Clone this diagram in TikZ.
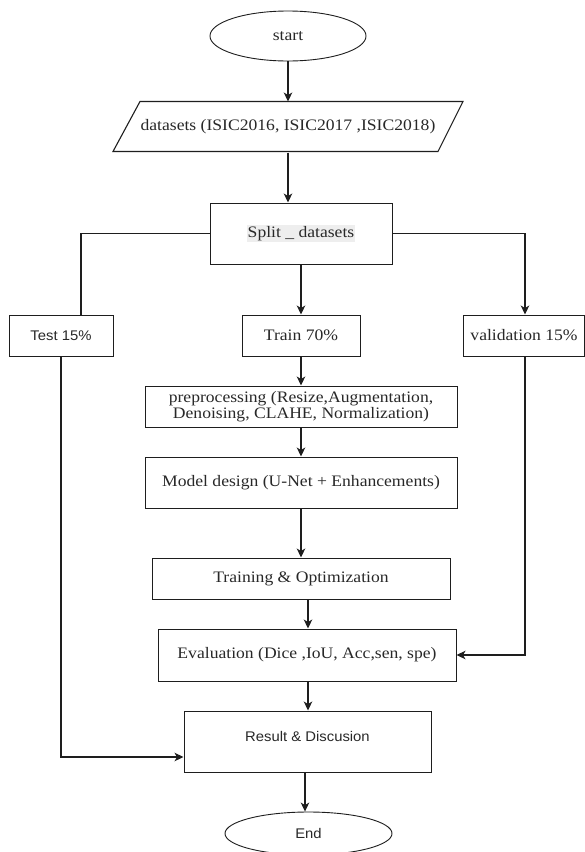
\documentclass[tikz,border=0pt]{standalone}
\usepackage{fontspec}
\usepackage{graphicx}
\setmainfont{Liberation Serif}
\newfontfamily\arialf{Liberation Sans}
\usetikzlibrary{shapes.geometric,arrows.meta}
\newcommand\sx[1]{\scalebox{1.1}[1]{#1}}
\newcommand\sxs[1]{\scalebox{1.06}[1]{#1}}
\definecolor{txt}{RGB}{40,40,40}
\definecolor{ln}{RGB}{30,30,30}
\begin{document}
\begin{tikzpicture}[x=1pt,y=-1pt,
  box/.style={draw=ln, line width=1pt, rectangle, inner sep=0pt, text=txt,
    font=\fontsize{16}{16}\selectfont, align=center},
  sbox/.style={box, font=\arialf\fontsize{14}{14}\selectfont},
  oval/.style={draw=ln, line width=0.9pt, ellipse, inner sep=0pt, text=txt},
  conn/.style={draw=ln, line width=1.1pt},
  arr/.style={conn, -{Stealth[length=9pt,width=8.5pt,inset=2.5pt]}}
]
\useasboundingbox (0,0) rectangle (585,852);
\fill[white] (0,0) rectangle (585,852);

% nodes
\node[oval, minimum width=156pt, minimum height=50pt, font=\fontsize{16}{16}\selectfont] (start) at (288,36) {\sx{start}};
\node[box, draw=none, minimum width=350pt, minimum height=50pt] (data) at (288,127) {\sx{datasets (ISIC2016, ISIC2017 ,ISIC2018)}};
\draw[conn] (data.north) ++(-148,0) -- ++(323,0) -- ++(-25,50) -- ++(-325,0) -- cycle;

\node[box, minimum width=182pt, minimum height=61pt] (split) at (301,233.5) {};
\node[fill=gray!13, inner sep=1.2pt, text=txt, font=\fontsize{16}{16}\selectfont] (splittxt) at (split.center) {\sx{Split \_ datasets}};

\node[sbox, minimum width=104pt, minimum height=41pt] (test) at (61,335.5) {\sxs{Test 15\%}};
\node[box, minimum width=118pt, minimum height=41pt] (train) at (301,335.5) {\sx{Train 70\%}};
\node[box, minimum width=121pt, minimum height=41pt] (val) at (524,335.5) {\sx{validation 15\%}};

\node[box, minimum width=312pt, minimum height=41pt] (pre) at (301,406.5)
  {\sx{preprocessing (Resize,Augmentation,}\\\sx{Denoising, CLAHE, Normalization)}};
\node[box, minimum width=312pt, minimum height=51pt] (model) at (301,482.5) {\sx{Model design (U-Net + Enhancements)}};
\node[box, minimum width=298pt, minimum height=41pt] (training) at (301,578.5) {\sx{Training \& Optimization}};
\node[box, minimum width=298pt, minimum height=52pt] (eval) at (307,655) {\sx{Evaluation (Dice ,IoU, Acc,sen, spe)}};
\node[sbox, minimum width=247pt, minimum height=61pt] (result) at (307.5,741.5) {};
\node[text=txt, inner sep=0pt, font=\arialf\fontsize{14}{14}\selectfont] (resulttxt) at ([yshift=5pt]result.center) {\sxs{Result \& Discusion}};
\node[oval, minimum width=167pt, minimum height=43pt, font=\arialf\fontsize{14}{14}\selectfont] (endn) at (308.5,833.5) {\sxs{End}};

% connectors
\draw[arr] (start.south) -- (data.north);
\draw[arr] (data.south) -- (data.south |- split.north);
\draw[conn] (split.west) -| ([xshift=20pt]test.north);
\draw[arr] (split.south) -- (train.north);
\draw[arr] (split.east) -| ([xshift=1pt]val.north);
\draw[arr] (train.south) -- (pre.north);
\draw[arr] (pre.south) -- (model.north);
\draw[arr] (model.south) -- (training.north);
\draw[arr] ([xshift=1pt]eval.north |- training.south) -- ([xshift=1pt]eval.north);
\draw[arr] ([xshift=1pt]eval.south) -- ([xshift=0.5pt]result.north);
\draw[arr] (test.south) |- ([yshift=-15.5pt]result.west);
\draw[arr] ([xshift=1pt]val.south) |- (eval.east);
\draw[arr] ([xshift=-2.5pt]result.south) -- ([xshift=-2.5pt]result.south |- endn.north);
\end{tikzpicture}
\end{document}
